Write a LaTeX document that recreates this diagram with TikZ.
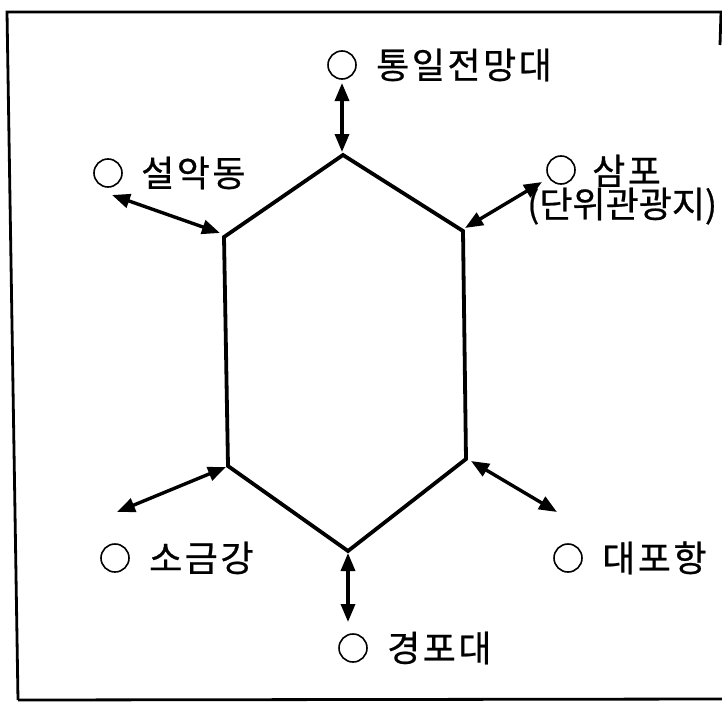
\documentclass[tikz,border=0pt]{standalone}
\usepackage{fontspec}
\newfontfamily\kr[FakeBold=0.6,LetterSpace=7]{Noto Sans CJK KR}
\newfontfamily\krtight[FakeBold=0.6]{Noto Sans CJK KR}
\usetikzlibrary{arrows.meta}
\begin{document}
\begin{tikzpicture}[x=1pt,y=-1pt,
  hexline/.style={line width=3.8pt,line join=miter},
  link/.style={line width=3.4pt,{Triangle[length=18pt,width=14pt]}-{Triangle[length=18pt,width=14pt]}},
  ring/.style={draw,circle,line width=1.6pt,minimum size=28pt,inner sep=0pt},
  lbl/.style={anchor=west,inner sep=0pt,text height=27pt,text depth=0pt,font=\kr\fontsize{36pt}{40pt}\selectfont},
  lbltight/.style={lbl,font=\krtight\fontsize{36pt}{40pt}\selectfont},
  frame/.style={line width=2.8pt}]
\useasboundingbox (0,0) rectangle (722,709);
% frame
\coordinate (f1) at (7,12);
\coordinate (f2) at (721,12);
\coordinate (f3) at (18,700);
\coordinate (f4) at (722,699);
\coordinate (f5) at (720,45);
\draw[frame] (f3) -- (f1) -- (f2) -- (f5);
\draw[frame] (f3) -- (f4);
% hexagon
\coordinate (T) at (343,155);
\coordinate (UR) at (463,231);
\coordinate (LR) at (466,459);
\coordinate (B) at (348,551);
\coordinate (LL) at (228,466);
\coordinate (UL) at (224,237);
\draw[hexline] (T) -- (UR) -- (LR) -- (B) -- (LL) -- (UL) -- cycle;
% arrow endpoints
\coordinate (Ta) at (342,152);
\coordinate (Te) at (342,83);
\coordinate (ULa) at (220,233);
\coordinate (ULe) at (112,195);
\coordinate (URa) at (465,228);
\coordinate (URe) at (542,182);
\coordinate (LLa) at (226,467);
\coordinate (LLe) at (117,512);
\coordinate (LRa) at (471,461);
\coordinate (LRe) at (557,512);
\coordinate (Ba) at (348,553);
\coordinate (Be) at (348,622);
\draw[link] (Ta) -- (Te);
\draw[link] (ULa) -- (ULe);
\draw[link] (URa) -- (URe);
\draw[link] (LLa) -- (LLe);
\draw[link] (LRa) -- (LRe);
\draw[link] (Ba) -- (Be);
% labels
\node[ring] (c1) at (342,65) {};
\node[lbl] (t1) at (376,65) {통일전망대};
\node[ring] (c2) at (108,173) {};
\node[lbl] (t2) at (141,173) {설악동};
\node[ring] (c3) at (561,170) {};
\node[lbl] (t3) at (592,171) {삼포};
\node[lbltight] (t3b) at (527,204) {(단위관광지)};
\node[ring] (c4) at (115,558) {};
\node[lbl] (t4) at (149,558) {소금강};
\node[ring] (c5) at (568,558) {};
\node[lbl] (t5) at (602,558) {대포항};
\node[ring] (c6) at (353,648) {};
\node[lbl] (t6) at (387,648) {경포대};
\end{tikzpicture}
\end{document}
